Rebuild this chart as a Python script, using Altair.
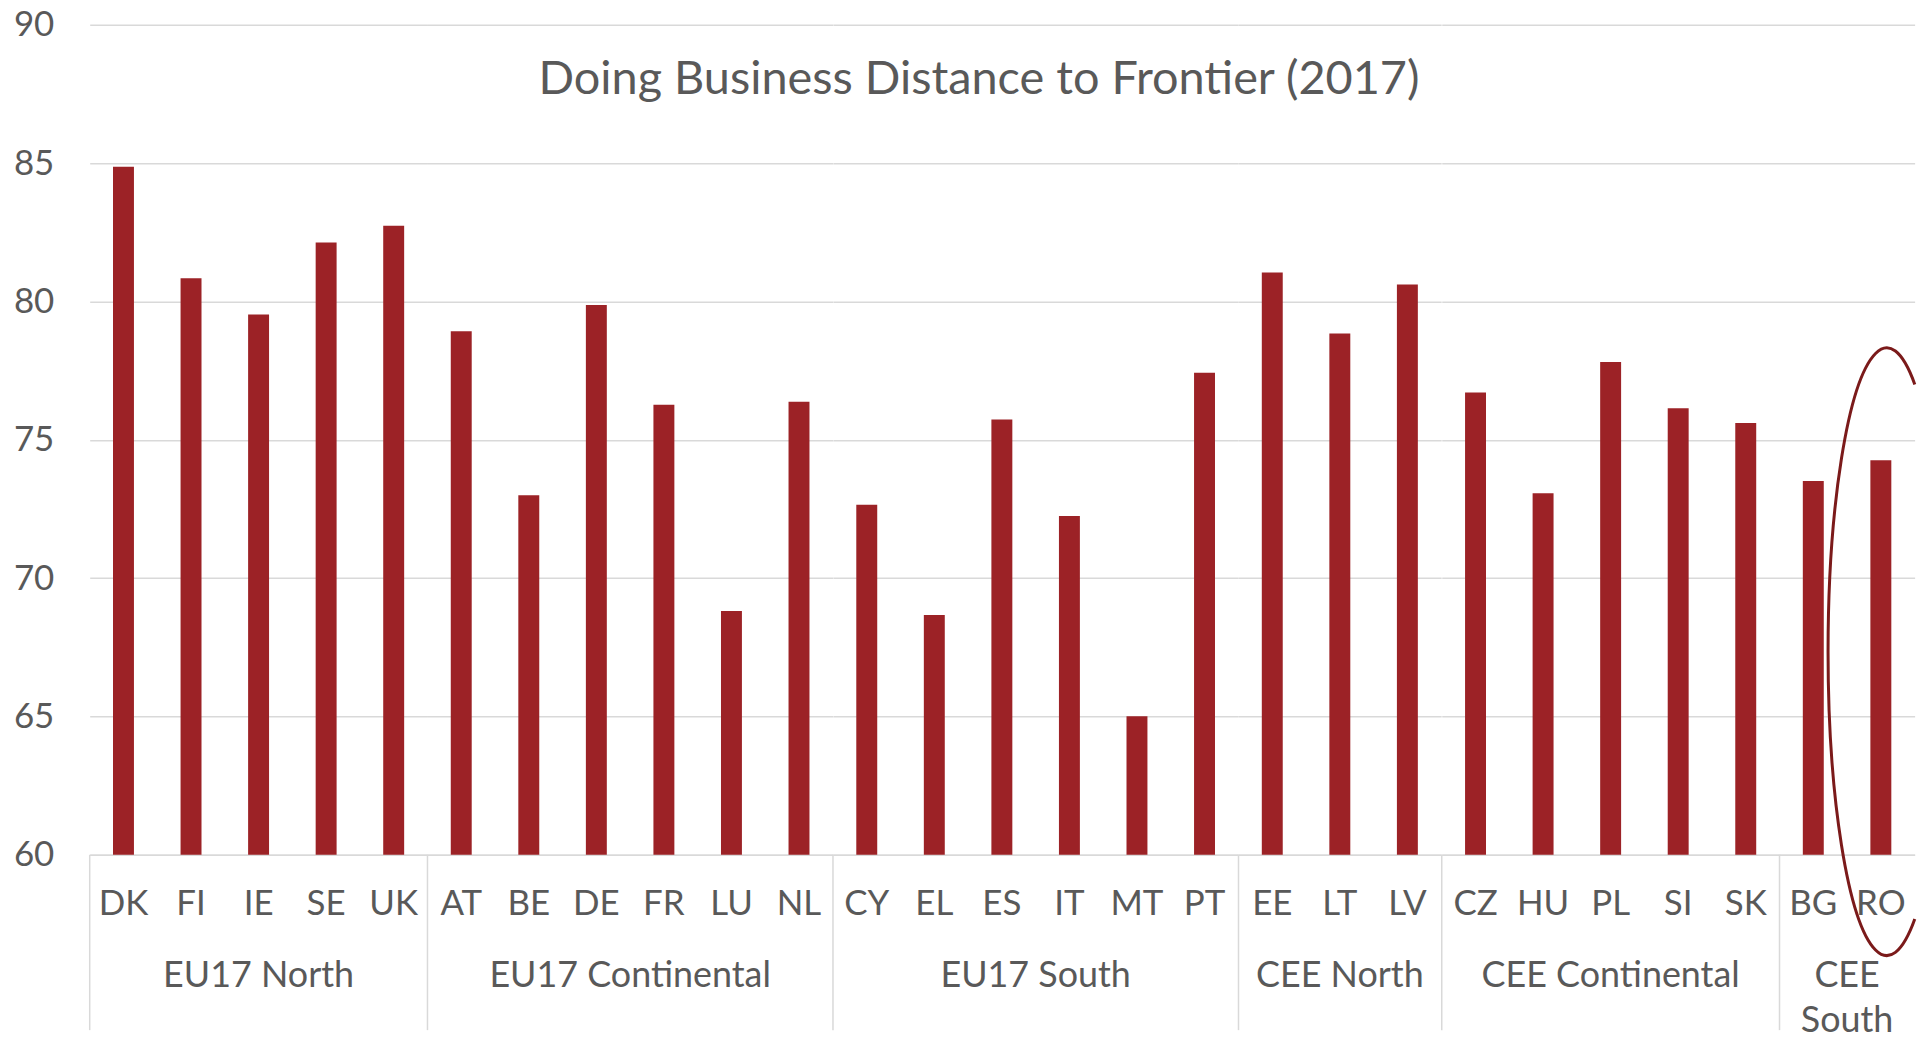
import altair as alt
import pandas as pd

# ---- data ----
countries = ["DK", "FI", "IE", "SE", "UK",
             "AT", "BE", "DE", "FR", "LU", "NL",
             "CY", "EL", "ES", "IT", "MT", "PT",
             "EE", "LT", "LV",
             "CZ", "HU", "PL", "SI", "SK",
             "BG", "RO"]
groups = (["EU17 North"] * 5 + ["EU17 Continental"] * 6 + ["EU17 South"] * 6
          + ["CEE North"] * 3 + ["CEE Continental"] * 5 + ["CEE South"] * 2)
values = [84.87, 80.84, 79.53, 82.13, 82.74,
          78.92, 73.00, 79.87, 76.27, 68.81, 76.38,
          72.65, 68.67, 75.73, 72.25, 65.01, 77.42,
          81.05, 78.84, 80.61,
          76.71, 73.07, 77.81, 76.14, 75.61,
          73.51, 74.26]
group_order = ["EU17 North", "EU17 Continental", "EU17 South",
               "CEE North", "CEE Continental", "CEE South"]
y_ticks = [60, 65, 70, 75, 80, 85, 90]
y_min, y_max = 60, 90
highlight_country = "RO"
highlight_center = 67.34
title_text = "Doing Business Distance to Frontier (2017)"

# ---- style ----
BAR = "#9C2226"
GRID = "#D9D9D9"
TEXT = "#595959"
RING = "#7B1A1A"
FONT = "Lato"
H = 833
STEP = 67.8

df = pd.DataFrame({"country": countries, "group": groups, "value": values})

y_enc = alt.Y(
    "value:Q",
    title=None,
    scale=alt.Scale(domain=[y_min, y_max], nice=False, zero=False),
    axis=alt.Axis(values=y_ticks, domain=False, ticks=False, tickSize=0,
                  labelFont=FONT, labelFontSize=35, labelColor=TEXT,
                  labelPadding=36, gridColor=GRID, gridWidth=1.5),
)
x_enc = alt.X(
    "country:N", sort=countries, title=None,
    scale=alt.Scale(paddingInner=0.69, paddingOuter=0.345, round=False),
    axis=alt.Axis(labelAngle=0, ticks=False, tickSize=0, grid=False,
                  domainColor=GRID, domainWidth=1.5,
                  labelFont=FONT, labelFontSize=35, labelColor=TEXT,
                  labelPadding=32),
)

bars = alt.Chart().mark_bar(color=BAR).encode(
    x=x_enc, y=y_enc, y2=alt.datum(y_min)
)

dividers = (
    alt.Chart()
    .transform_window(rn="row_number()", groupby=["group"])
    .transform_filter("datum.rn == 1")
    .mark_rect(color=GRID)
    .encode(x=alt.value(-0.75), x2=alt.value(0.75),
            y=alt.value(H), y2=alt.value(H + 176))
)

ring_path = "M 0.092 -0.8796 A 0.1934 1 0 1 0 0.092 0.8796"
ring = (
    alt.Chart()
    .transform_filter(f"datum.country == '{highlight_country}'")
    .mark_point(shape=ring_path, size=610 * 610, filled=False, stroke=RING,
                strokeWidth=3, opacity=1, xOffset=6)
    .encode(x=alt.X("country:N", sort=countries), y=alt.datum(highlight_center))
)

layer = alt.layer(bars, dividers, ring).properties(
    width=alt.Step(STEP), height=H,
    view=alt.ViewBackground(strokeWidth=0, strokeOpacity=0),
)

chart = (
    layer.facet(
        column=alt.Column(
            "group:N", sort=group_order, title=None,
            header=alt.Header(
                labelOrient="bottom", labelFont=FONT, labelFontSize=36,
                labelColor=TEXT, labelPadding=105, labelBaseline="top",
                labelLineHeight=45, labelLimit=0,
                labelExpr="datum.value == 'CEE South' ? ['CEE', 'South'] : datum.value",
            ),
        ),
        data=df,
        spacing=0,
        bounds="flush",
    )
    .resolve_scale(x="independent")
    .properties(
        title=alt.TitleParams(title_text, font=FONT, fontSize=47, color=TEXT,
                              fontWeight="normal", anchor="middle", dy=100, dx=12),
        padding={"left": 5, "top": -2, "right": 0, "bottom": 0},
    )
    .configure_view(strokeWidth=0, strokeOpacity=0)
    .configure(font=FONT)
)

chart.save("out.html", embed_options={"renderer": "svg", "actions": False})
